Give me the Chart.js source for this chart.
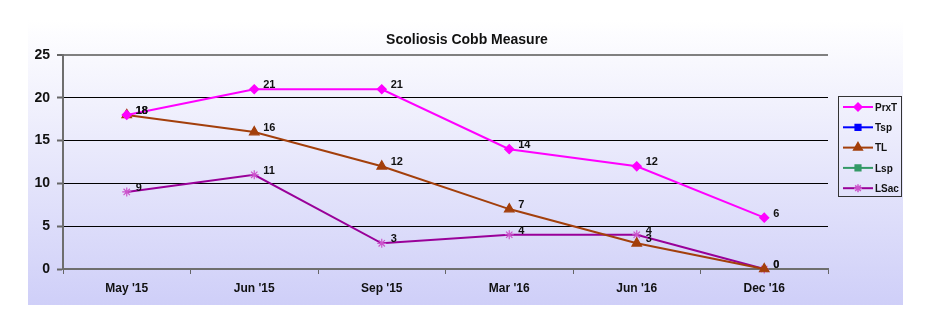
<!DOCTYPE html>
<html>
<head>
<meta charset="utf-8">
<script src="https://cdn.jsdelivr.net/npm/chart.js@4"></script>
<style>
  body { margin: 0; background: #fff; }
</style>
</head>
<body>
<canvas id="myChart" width="934" height="323"></canvas>
<script>
const labels = ["May '15", "Jun '15", "Sep '15", "Mar '16", "Jun '16", "Dec '16"];
const prxT = [18, 21, 21, 14, 12, 6];
const tsp = [null, null, null, null, null, null];
const tl = [18, 16, 12, 7, 3, 0];
const lsp = [null, null, null, null, null, null];
const lsac = [9, 11, 3, 4, 4, 0];
const yTicks = [0, 5, 10, 15, 20, 25];

const FONT = "'Liberation Sans', Arial, sans-serif";

// background panel + title
const backdrop = {
  id: 'backdrop',
  beforeDraw(chart) {
    const c = chart.ctx;
    const g = c.createLinearGradient(0, 20, 0, 305);
    g.addColorStop(0, '#ffffff');
    g.addColorStop(1, '#cfcff8');
    c.save();
    c.fillStyle = g;
    c.fillRect(28, 20, 875, 285);
    c.fillStyle = '#111';
    c.font = 'bold 14px ' + FONT;
    c.textAlign = 'center';
    c.textBaseline = 'middle';
    c.fillText('Scoliosis Cobb Measure', 467, 40);
    c.restore();
  }
};

// value labels next to the points
const valueLabels = {
  id: 'valueLabels',
  afterDatasetsDraw(chart) {
    const c = chart.ctx;
    c.save();
    c.font = 'bold 11px ' + FONT;
    c.fillStyle = '#111';
    c.textAlign = 'left';
    c.textBaseline = 'middle';
    chart.data.datasets.forEach((ds, i) => {
      const meta = chart.getDatasetMeta(i);
      meta.data.forEach((pt, j) => {
        if (ds.data[j] == null) return;
        c.fillText(ds.data[j], pt.x + 9, pt.y - 4);
      });
    });
    c.restore();
  }
};

// legend with line + marker samples
const sideLegend = {
  id: 'sideLegend',
  afterDraw(chart) {
    const c = chart.ctx;
    c.save();
    c.strokeStyle = '#333';
    c.lineWidth = 1;
    c.strokeRect(838.5, 96.5, 63, 100);
    c.font = 'bold 10px ' + FONT;
    c.textBaseline = 'middle';
    c.textAlign = 'left';
    chart.data.datasets.forEach((ds, i) => {
      const y = 107 + i * 20.3;
      c.strokeStyle = ds.borderColor;
      c.lineWidth = 2;
      c.beginPath();
      c.moveTo(843, y);
      c.lineTo(873, y);
      c.stroke();
      c.fillStyle = ds.pointBackgroundColor;
      c.strokeStyle = ds.pointBorderColor;
      c.lineWidth = 1.5;
      Chart.helpers.drawPoint(c, {
        pointStyle: ds.pointStyle,
        radius: ds.pointRadius - 0.5,
        rotation: 0,
        borderWidth: 1.5
      }, 858, y);
      c.fillStyle = '#111';
      c.fillText(ds.label, 875, y + 1);
    });
    c.restore();
  }
};

function series(label, data, color, markColor, style, radius) {
  return {
    label: label,
    data: data,
    borderColor: color,
    backgroundColor: color,
    pointBackgroundColor: markColor,
    pointBorderColor: markColor,
    pointStyle: style,
    pointRadius: radius,
    pointBorderWidth: 1.2,
    borderWidth: 2,
    tension: 0,
    clip: false
  };
}

const ctx = document.getElementById('myChart').getContext('2d');
const chart = new Chart(ctx, {
  type: 'line',
  data: {
    labels: labels,
    datasets: [
      series('PrxT', prxT, '#ff00ff', '#ff00ff', 'rectRot', 4.5),
      series('Tsp', tsp, '#0000ff', '#0000ff', 'rect', 4.5),
      series('TL', tl, '#a33f0b', '#a33f0b', 'triangle', 5.5),
      series('Lsp', lsp, '#339966', '#339966', 'rect', 4.5),
      series('LSac', lsac, '#990099', '#cc55cc', 'star', 4.5)
    ]
  },
  options: {
    responsive: false,
    animation: false,
    layout: { padding: { left: 0, right: 106, top: 55, bottom: 0 } },
    plugins: {
      legend: { display: false },
      title: { display: false },
      tooltip: { enabled: false }
    },
    scales: {
      x: {
        offset: true,
        afterFit(scale) { scale.height = 54; },
        grid: {
          offset: true,
          drawOnChartArea: false,
          drawTicks: true,
          tickLength: 5,
          tickColor: '#666'
        },
        border: { display: true, color: '#6e6e6e', width: 2 },
        ticks: {
          color: '#111',
          padding: 7,
          font: { family: FONT, size: 12, weight: 'bold' }
        }
      },
      y: {
        min: 0,
        max: 25,
        afterFit(scale) { scale.width = 63; },
        afterBuildTicks(scale) { scale.ticks = yTicks.map(v => ({ value: v })); },
        grid: {
          color: c => (c.tick && (c.tick.value === 25 || c.tick.value === 0)) ? '#808080' : '#000',
          lineWidth: c => (c.tick && c.tick.value === 25) ? 2 : 1,
          tickLength: 6,
          tickColor: '#666',
          tickWidth: 2
        },
        border: { display: true, color: '#6e6e6e', width: 2 },
        ticks: {
          color: '#111',
          padding: 7,
          font: { family: FONT, size: 14, weight: 'bold' }
        }
      }
    }
  },
  plugins: [backdrop, valueLabels, sideLegend]
});
</script>
</body>
</html>
